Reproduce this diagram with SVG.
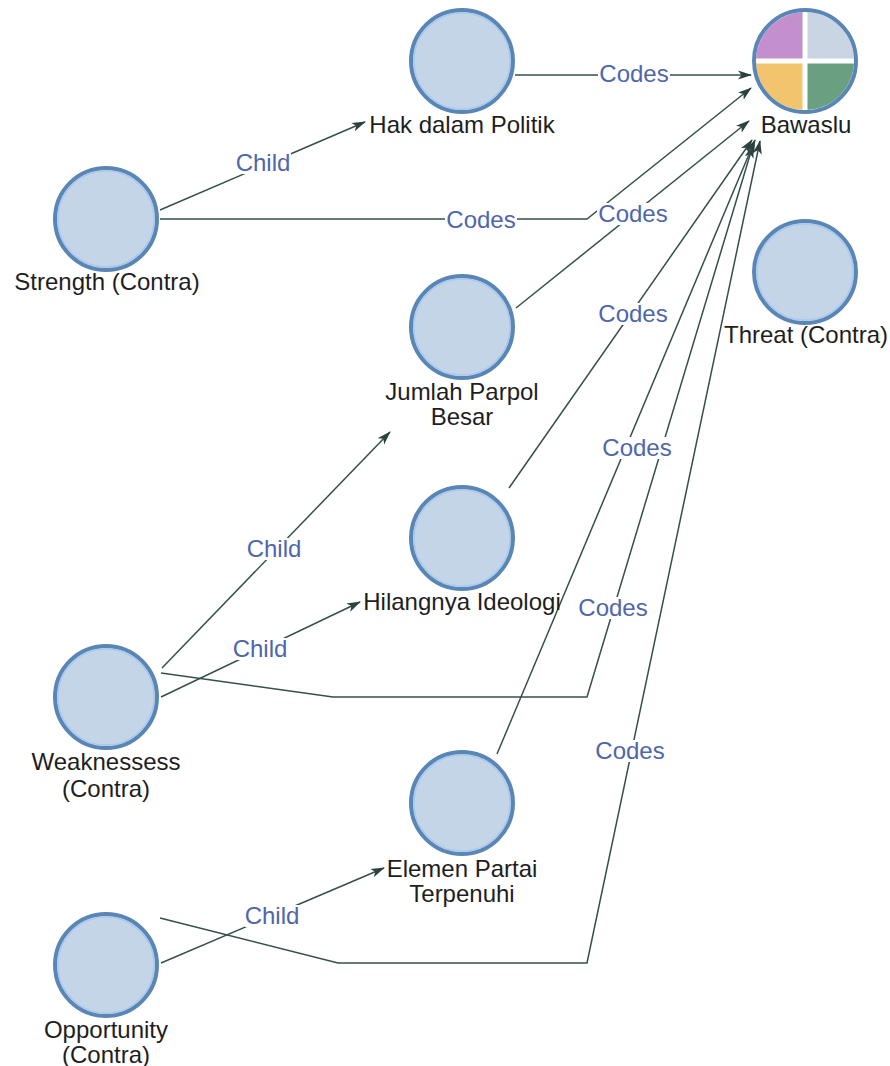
<svg xmlns="http://www.w3.org/2000/svg" width="890" height="1066" viewBox="0 0 890 1066">
<defs>
<style>
.ln{fill:none;stroke:#34504c;stroke-width:1.5;marker-end:url(#arr)}
.lb{fill:#ffffff}
.lt{font-family:"Liberation Sans",Arial,sans-serif;font-size:24px;fill:#4f66ab;text-anchor:middle}
.nt{font-family:"Liberation Sans",Arial,sans-serif;font-size:24px;fill:#1e1e1e;text-anchor:middle}
.nc{fill:#c5d5e8;stroke:#5a86b6;stroke-width:4}
.ni{fill:none;stroke:#a9c9ef;stroke-width:1.5}
</style>
<marker id="arr" viewBox="0 0 14 10" refX="13" refY="5" markerWidth="14" markerHeight="10" orient="auto" markerUnits="userSpaceOnUse"><path d="M0,0.5 L14,5 L0,9.5 L3.5,5 z" fill="#2c4240"/></marker>
</defs>
<rect width="890" height="1066" fill="#ffffff"/>
<g id="connectors">
<path class="ln" d="M160,210 L365,122"/>
<path class="ln" d="M162,668 L390,432"/>
<path class="ln" d="M161,697 L360,602"/>
<path class="ln" d="M161,963 L384,868"/>
<path class="ln" d="M515,75 L751,75"/>
<path class="ln" d="M160,219 L587,219 L751,88"/>
<path class="ln" d="M516,308 L749,121"/>
<path class="ln" d="M509,488 L752,140"/>
<path class="ln" d="M161,673 L333,697 L587,697 L753,145"/>
<path class="ln" d="M497,754 L755,140"/>
<path class="ln" d="M160,918 L338,963 L587,963 L760,141"/>
<rect class="lb" x="236" y="152" width="55" height="22"/><text class="lt" x="263" y="171">Child</text>
<rect class="lb" x="247" y="538" width="55" height="22"/><text class="lt" x="274" y="557">Child</text>
<rect class="lb" x="233" y="638" width="55" height="22"/><text class="lt" x="260" y="657">Child</text>
<rect class="lb" x="245" y="905" width="55" height="22"/><text class="lt" x="272" y="924">Child</text>
<rect class="lb" x="598" y="63" width="72" height="22"/><text class="lt" x="634" y="82">Codes</text>
<rect class="lb" x="445" y="209" width="72" height="22"/><text class="lt" x="481" y="228">Codes</text>
<rect class="lb" x="597" y="203" width="72" height="22"/><text class="lt" x="633" y="222">Codes</text>
<rect class="lb" x="597" y="303" width="72" height="22"/><text class="lt" x="633" y="322">Codes</text>
<rect class="lb" x="601" y="437" width="72" height="22"/><text class="lt" x="637" y="456">Codes</text>
<rect class="lb" x="577" y="597" width="72" height="22"/><text class="lt" x="613" y="616">Codes</text>
<rect class="lb" x="594" y="740" width="72" height="22"/><text class="lt" x="630" y="759">Codes</text>
</g>
<g id="node-hak">
<circle class="nc" cx="462" cy="61" r="51"/><circle class="ni" cx="462" cy="61" r="48"/>
<text class="nt" x="462" y="133">Hak dalam Politik</text>
</g>
<g id="node-bawaslu">
<circle cx="805" cy="61" r="51" fill="#ffffff"/>
<path d="M805,61 L805,12 A49,49 0 0,0 756,61 Z" fill="#c38fcc"/>
<path d="M805,61 L854,61 A49,49 0 0,0 805,12 Z" fill="#c9d5e3"/>
<path d="M805,61 L756,61 A49,49 0 0,0 805,110 Z" fill="#f2c46d"/>
<path d="M805,61 L805,110 A49,49 0 0,0 854,61 Z" fill="#6aa081"/>
<path d="M805,12 L805,110 M756,61 L854,61" stroke="#ffffff" stroke-width="5"/>
<circle cx="805" cy="61" r="51" fill="none" stroke="#5a86b6" stroke-width="4"/>
<text class="nt" x="806" y="133">Bawaslu</text>
</g>
<g id="node-strength">
<circle class="nc" cx="106" cy="219" r="51"/><circle class="ni" cx="106" cy="219" r="48"/>
<text class="nt" x="107" y="290">Strength (Contra)</text>
</g>
<g id="node-threat">
<circle class="nc" cx="805" cy="272" r="51"/><circle class="ni" cx="805" cy="272" r="48"/>
<text class="nt" x="806" y="343">Threat (Contra)</text>
</g>
<g id="node-jumlah">
<circle class="nc" cx="462" cy="327" r="51"/><circle class="ni" cx="462" cy="327" r="48"/>
<text class="nt" x="462" y="400">Jumlah Parpol</text>
<text class="nt" x="462" y="425">Besar</text>
</g>
<g id="node-hilangnya">
<circle class="nc" cx="462" cy="538" r="51"/><circle class="ni" cx="462" cy="538" r="48"/>
<text class="nt" x="462" y="610">Hilangnya Ideologi</text>
</g>
<g id="node-weaknessess">
<circle class="nc" cx="106" cy="697" r="51"/><circle class="ni" cx="106" cy="697" r="48"/>
<text class="nt" x="106" y="770">Weaknessess</text>
<text class="nt" x="106" y="797">(Contra)</text>
</g>
<g id="node-elemen">
<circle class="nc" cx="462" cy="803" r="51"/><circle class="ni" cx="462" cy="803" r="48"/>
<text class="nt" x="462" y="877">Elemen Partai</text>
<text class="nt" x="462" y="902">Terpenuhi</text>
</g>
<g id="node-opportunity">
<circle class="nc" cx="106" cy="965" r="51"/><circle class="ni" cx="106" cy="965" r="48"/>
<text class="nt" x="106" y="1038">Opportunity</text>
<text class="nt" x="106" y="1063">(Contra)</text>
</g>
</svg>
